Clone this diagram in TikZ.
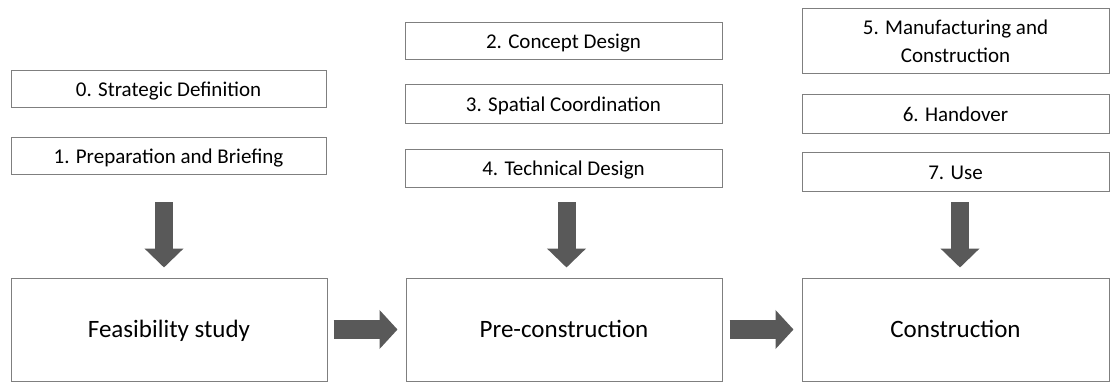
\documentclass[tikz,border=0pt]{standalone}
\usepackage{fontspec}
\setmainfont{Carlito}
\usetikzlibrary{arrows.meta,calc}
\definecolor{boxline}{HTML}{7F7F7F}
\definecolor{arrowfill}{HTML}{595959}
\tikzset{
  basebox/.style={draw=boxline, line width=1pt, fill=white, inner sep=0pt},
  stagebox/.style={basebox, font=\fontsize{21}{28}\selectfont, text height=17pt, text depth=2pt},
  stageboxml/.style={basebox, font=\fontsize{21}{28}\selectfont, align=center},
  phasebox/.style={basebox, font=\fontsize{25}{30}\selectfont, minimum height=103pt, text height=18pt, text depth=3pt},
  vblock/.style={arrowfill, line width=18pt, -{Triangle[width=38pt,length=19pt]}},
  hblock/.style={arrowfill, line width=19pt, -{Triangle[width=38pt,length=18pt]}}
}
\begin{document}
\begin{tikzpicture}[x=1pt,y=-1pt]
\useasboundingbox (0,0) rectangle (1110,383);
% left column
\node[stagebox, minimum width=315pt, minimum height=37pt] (s0) at (168.5,88.5) {0. Strategic Definition};
\node[stagebox, minimum width=315pt, minimum height=37pt] (s1) at (168.5,155.5) {1. Preparation and Briefing};
% middle column
\node[stagebox, minimum width=317pt, minimum height=37pt] (s2) at (563.5,40.5) {2. Concept Design};
\node[stagebox, minimum width=317pt, minimum height=39pt] (s3) at (563.5,103.5) {3. Spatial Coordination};
\node[stagebox, minimum width=317pt, minimum height=38pt] (s4) at (563.5,168) {4. Technical Design};
% right column
\node[stageboxml, minimum width=307pt, minimum height=65pt] (s5) at (955.5,41) {5. Manufacturing and\\Construction};
\node[stagebox, minimum width=307pt, minimum height=39pt] (s6) at (955.5,113.5) {6. Handover};
\node[stagebox, minimum width=307pt, minimum height=39pt] (s7) at (955.5,171.5) {7. Use};
% phases
\node[phasebox, minimum width=316pt] (feas) at (169,329.5) {Feasibility study};
\node[phasebox, minimum width=316pt] (pre) at (564,329.5) {Pre-construction};
\node[phasebox, minimum width=307pt] (con) at (955.5,329.5) {Construction};
% start points of the down arrows
\coordinate (d1s) at (164,202);
\coordinate (d2s) at (566.5,202);
\coordinate (d3s) at (960,202);
% down block arrows
\draw[vblock] (d1s) -- ($(d1s |- feas.north)+(0,-10)$);
\draw[vblock] (d2s) -- ($(d2s |- pre.north)+(0,-10)$);
\draw[vblock] (d3s) -- ($(d3s |- con.north)+(0,-10)$);
% right block arrows
\draw[hblock] ($(feas.east)+(6,0)$) -- ($(pre.west)+(-8,0)$);
\draw[hblock] ($(pre.east)+(7,0)$) -- ($(con.west)+(-8,0)$);
\end{tikzpicture}
\end{document}
